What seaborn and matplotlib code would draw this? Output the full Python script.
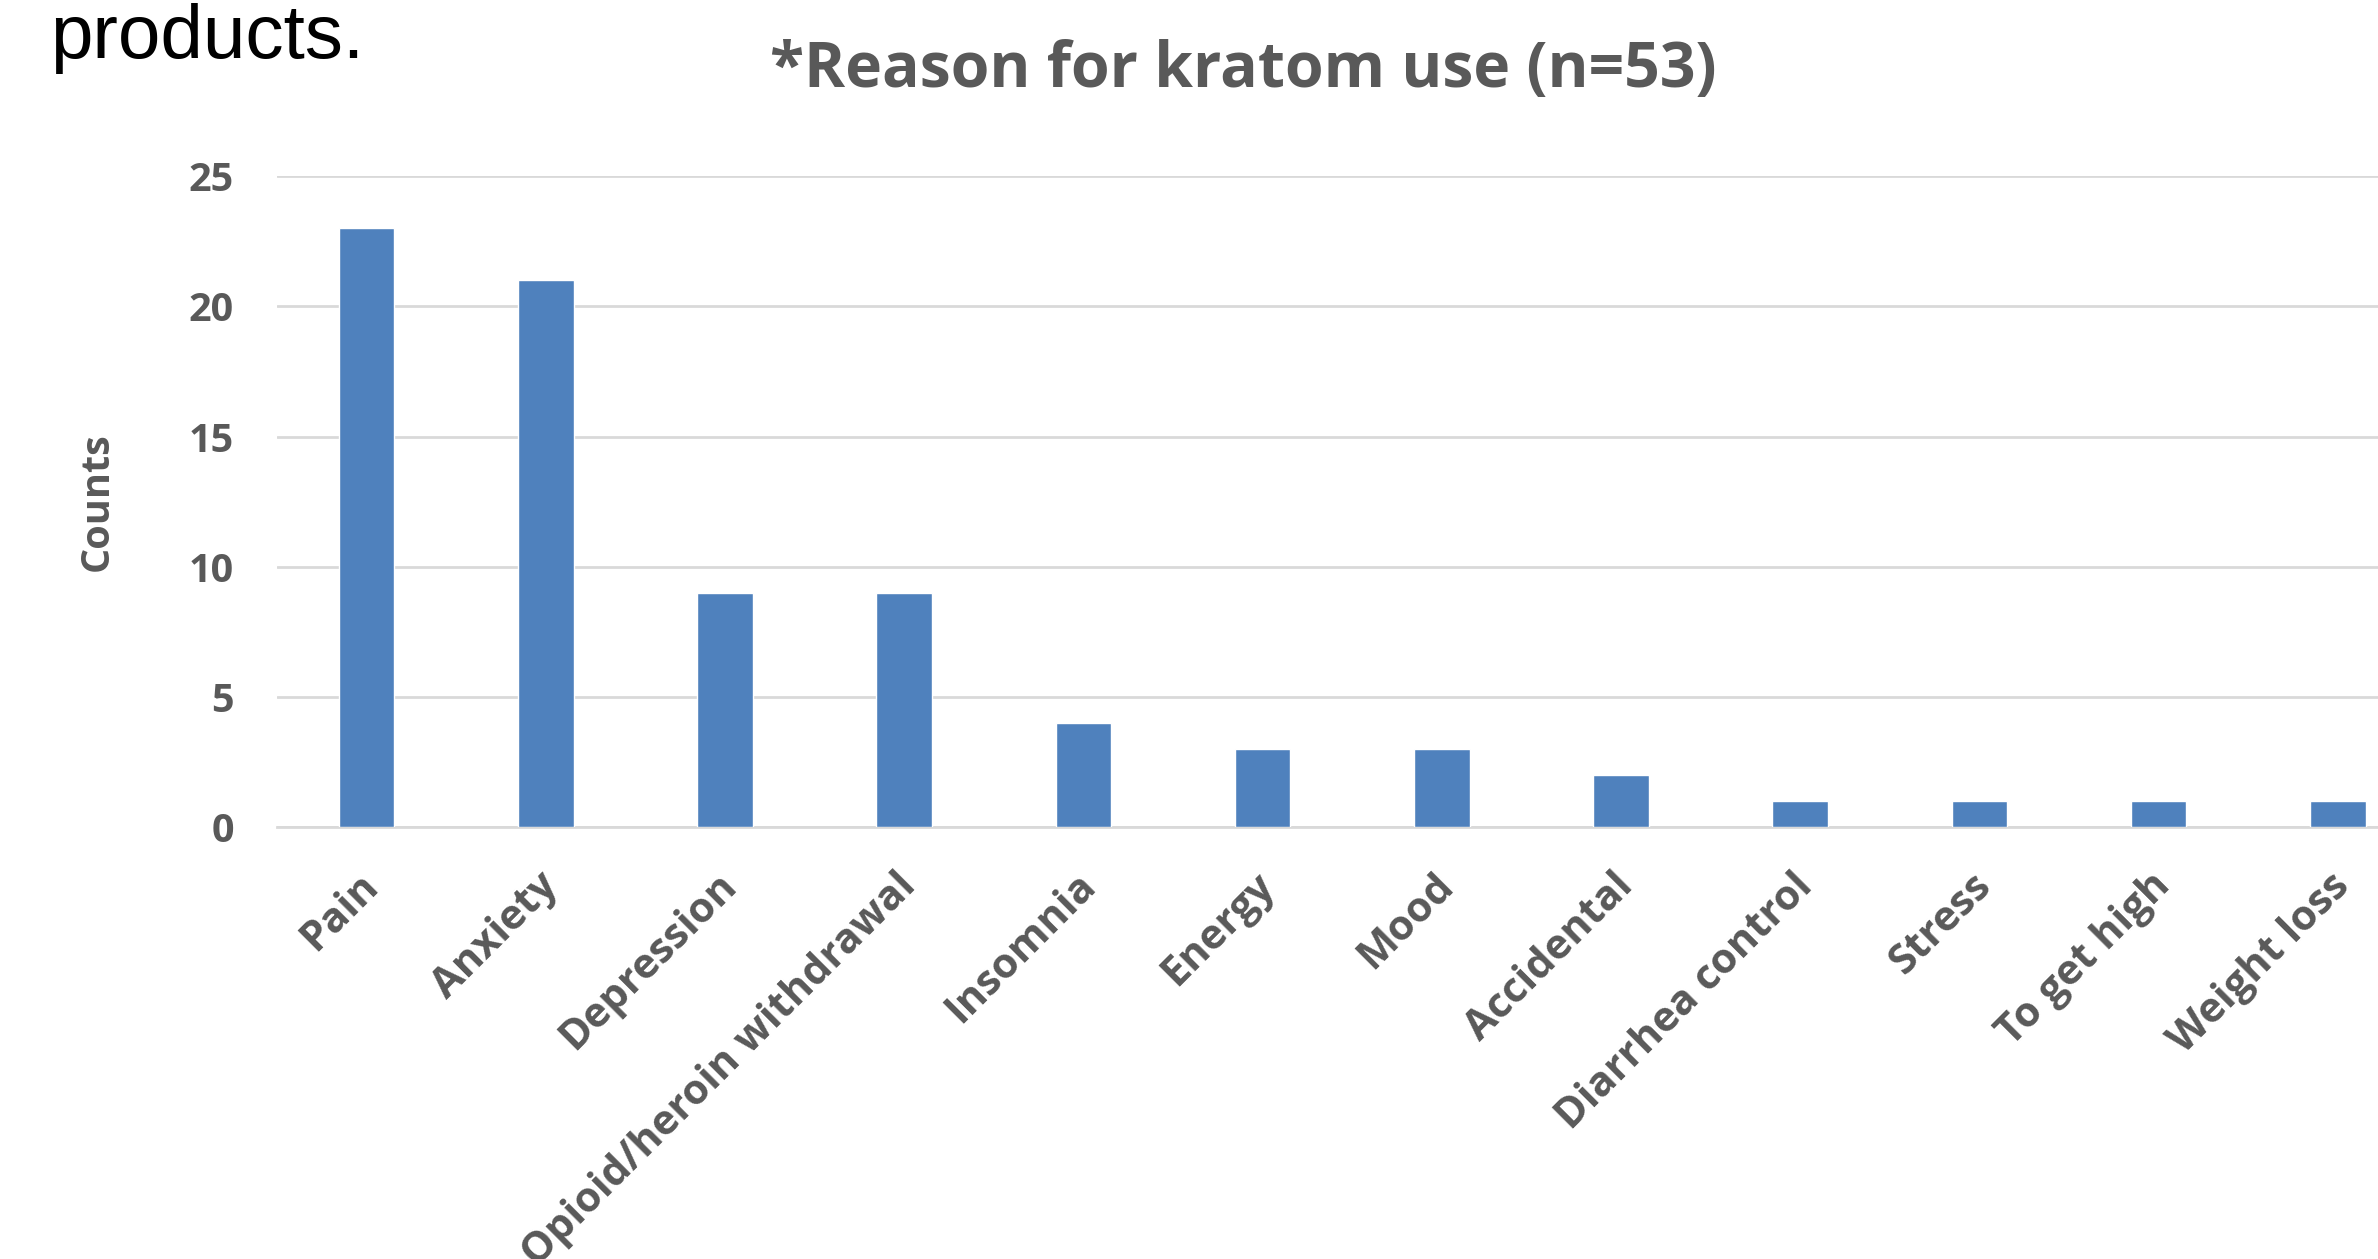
import matplotlib
matplotlib.use("Agg")
import matplotlib.pyplot as plt
import matplotlib.transforms as mtransforms
import seaborn as sns
import pandas as pd

# reasons for kratom use
reasons = ["Pain", "Anxiety", "Depression", "Opioid/heroin withdrawal", "Insomnia",
           "Energy", "Mood", "Accidental", "Diarrhea control", "Stress",
           "To get high", "Weight loss"]
counts = [23, 21, 9, 9, 4, 3, 3, 2, 1, 1, 1, 1]
yticks = [0, 5, 10, 15, 20, 25]

bar_color = "#4F81BD"
text_color = "#595959"
grid_color = "#D9D9D9"

sns.set_style("white")
plt.rcParams["font.family"] = ["Open Sans", "DejaVu Sans"]

df = pd.DataFrame({"reason": reasons, "count": counts})

fig = plt.figure(figsize=(23.78, 12.59), dpi=100)
ax = fig.add_axes([0.1165, 0.343, 0.8835, 0.517])

sns.barplot(data=df, x="reason", y="count", order=reasons, color=bar_color,
            saturation=1, width=0.31, ax=ax, zorder=3)

ax.set_ylim(0, 25)
ax.set_xlim(-0.5, len(reasons) - 1 + 0.224)
ax.set_yticks(yticks)
ax.set_yticklabels([str(v) for v in yticks], fontsize=28.5, fontweight="bold", color=text_color)
ax.yaxis.grid(True, color=grid_color, linewidth=2, zorder=0)
ax.xaxis.grid(False)
for s in ["top", "right", "left"]:
    ax.spines[s].set_visible(False)
ax.spines["bottom"].set_color(grid_color)
ax.spines["bottom"].set_linewidth(2)
ax.tick_params(axis="y", length=0, pad=31)
ax.tick_params(axis="x", length=0, pad=38)

ax.set_xticks(range(len(reasons)))
ax.set_xticklabels(reasons, rotation=45, ha="right", va="center", rotation_mode="anchor",
                   fontsize=30, fontweight="bold", color=text_color)
# nudge the slanted labels a little to the right, like the original
shift = mtransforms.ScaledTranslation(6 / 100, 0, fig.dpi_scale_trans)
for lab in ax.get_xticklabels():
    lab.set_transform(lab.get_transform() + shift)
ax.set_xlabel("")
ax.set_ylabel("Counts", fontsize=28.5, fontweight="bold", color=text_color, labelpad=52)

fig.text(0.523, 0.944, "*Reason for kratom use (n=53)", ha="center", va="center",
         fontsize=45, fontweight="bold", color=text_color)
fig.text(0.021, 0.954, "products.", ha="left", va="baseline", fontsize=55,
         color="black", family=["Liberation Sans", "DejaVu Sans"])

fig.savefig("out.png", dpi=100)
